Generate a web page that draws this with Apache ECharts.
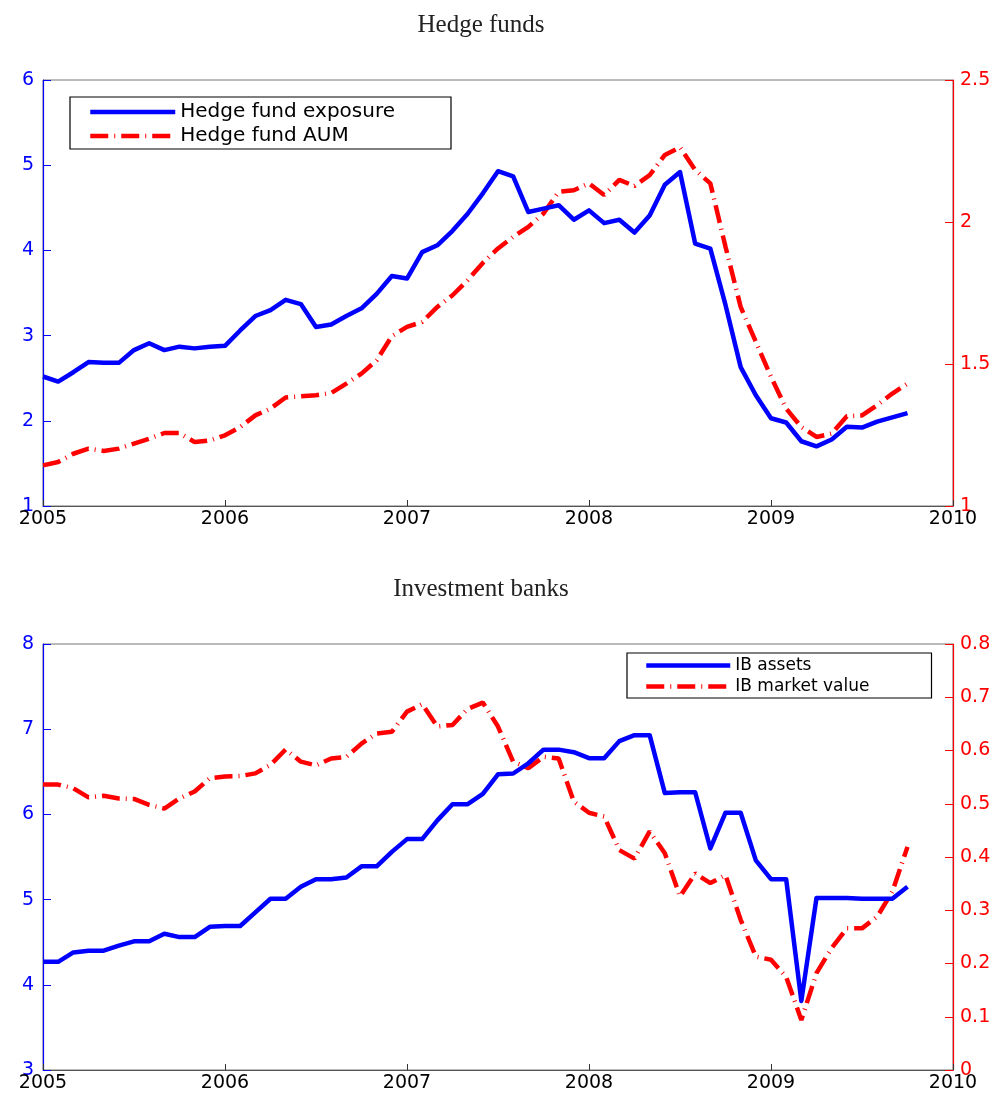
<!DOCTYPE html>
<html>
<head>
<meta charset="utf-8">
<script src="https://cdn.jsdelivr.net/npm/echarts@6/dist/echarts.min.js"></script>
<style>
html,body{margin:0;padding:0;background:#fff;}
#chart{width:1002px;height:1093px;}
</style>
</head>
<body>
<div id="chart"></div>
<script>
// Monthly observations starting January 2005
const startYear = 2005;
const yearTicks = [2005, 2006, 2007, 2008, 2009, 2010];

const hedgeExposure = [
  2.52,2.46,2.57,2.69,2.68,2.68,2.83,2.91,2.83,2.87,2.85,2.87,
  2.88,3.06,3.23,3.30,3.42,3.37,3.10,3.13,3.23,3.32,3.49,3.70,
  3.67,3.98,4.06,4.23,4.43,4.67,4.93,4.87,4.45,4.49,4.53,4.36,
  4.47,4.32,4.36,4.21,4.41,4.77,4.92,4.08,4.02,3.36,2.63,2.30,
  2.03,1.98,1.76,1.70,1.78,1.93,1.92,1.99,2.04,2.09
];
const hedgeAUM = [
  1.143,1.155,1.184,1.202,1.194,1.202,1.220,1.237,1.257,1.257,1.225,1.231,
  1.249,1.278,1.319,1.343,1.382,1.386,1.390,1.398,1.431,1.466,1.513,1.598,
  1.631,1.648,1.701,1.742,1.795,1.856,1.907,1.948,1.983,2.030,2.106,2.112,
  2.136,2.095,2.148,2.127,2.165,2.236,2.263,2.183,2.136,1.913,1.701,1.578,
  1.455,1.343,1.278,1.243,1.255,1.316,1.319,1.355,1.396,1.431
];
const ibAssets = [
  4.27,4.27,4.38,4.40,4.40,4.46,4.51,4.51,4.60,4.56,4.56,4.68,
  4.69,4.69,4.85,5.01,5.01,5.15,5.24,5.24,5.26,5.39,5.39,5.56,
  5.71,5.71,5.93,6.12,6.12,6.24,6.47,6.48,6.60,6.76,6.76,6.73,
  6.66,6.66,6.86,6.93,6.93,6.25,6.26,6.26,5.60,6.02,6.02,5.46,
  5.24,5.24,3.81,5.02,5.02,5.02,5.01,5.01,5.01,5.15
];
const ibMarketValue = [
  0.536,0.536,0.529,0.512,0.515,0.510,0.509,0.498,0.491,0.510,0.523,0.548,
  0.551,0.552,0.557,0.573,0.602,0.579,0.572,0.585,0.588,0.613,0.632,0.635,
  0.673,0.687,0.645,0.648,0.678,0.690,0.645,0.579,0.567,0.588,0.585,0.504,
  0.483,0.476,0.413,0.397,0.448,0.407,0.326,0.369,0.351,0.366,0.282,0.213,
  0.207,0.175,0.094,0.182,0.229,0.266,0.266,0.288,0.335,0.419
];

const titles = ['Hedge funds', 'Investment banks'];
const hedgeNames = ['Hedge fund exposure', 'Hedge fund AUM'];
const ibNames = ['IB assets', 'IB market value'];

function toPairs(arr) {
  return arr.map((v, i) => [startYear + i / 12, v]);
}

const SANS = 'DejaVu Sans';
const BLUE = '#0000ff';
const RED = '#ff0000';

function xAxis(gridIndex) {
  return {
    type: 'value', gridIndex: gridIndex,
    min: yearTicks[0], max: yearTicks[yearTicks.length - 1], interval: 1,
    axisLine: { show: true, lineStyle: { color: '#555', width: 1 } },
    axisTick: { show: true, inside: true, length: 6, lineStyle: { color: '#333' } },
    axisLabel: { color: '#000', fontFamily: SANS, fontSize: 19, margin: 4,
      formatter: v => String(v) },
    splitLine: { show: false }
  };
}
function yAxis(gridIndex, pos, min, max, interval, color, fmt) {
  return {
    type: 'value', gridIndex: gridIndex, position: pos,
    min: min, max: max, interval: interval,
    axisLine: { show: true, lineStyle: { color: color, width: 1.2 } },
    axisTick: { show: true, inside: true, length: 8, lineStyle: { color: color } },
    axisLabel: { color: color, fontFamily: SANS, fontSize: 19,
      margin: pos === 'left' ? 9 : 7, formatter: fmt },
    splitLine: { show: false }
  };
}

const solid = { color: BLUE, width: 4.5, type: 'solid', join: 'round' };
const dashdot = { color: RED, width: 4.5, type: [18, 6, 1, 6], cap: 'butt' };

const option = {
  animation: false,
  backgroundColor: '#fff',
  title: [
    { text: titles[0], left: 476, top: 8, textAlign: 'center',
      textStyle: { fontFamily: 'Liberation Serif', fontSize: 25, fontWeight: 'normal', color: '#222' } },
    { text: titles[1], left: 476, top: 572, textAlign: 'center',
      textStyle: { fontFamily: 'Liberation Serif', fontSize: 25, fontWeight: 'normal', color: '#222' } }
  ],
  legend: [
    { data: hedgeNames, orient: 'vertical', left: 70, top: 97,
      backgroundColor: '#fff', borderColor: '#000', borderWidth: 1.2,
      padding: [5, 56, 3, 18], itemGap: 4, itemWidth: 85, itemHeight: 14, itemTextGap: 10,
      itemStyle: { opacity: 0 }, lineStyle: { width: 4.5 },
      textStyle: { fontFamily: SANS, fontSize: 20, lineHeight: 20, color: '#000' } },
    { data: ibNames, orient: 'vertical', left: 627, top: 653,
      backgroundColor: '#fff', borderColor: '#000', borderWidth: 1.2,
      padding: [4, 62, 3, 17], itemGap: 4, itemWidth: 84, itemHeight: 14, itemTextGap: 11,
      itemStyle: { opacity: 0 }, lineStyle: { width: 4.5 },
      textStyle: { fontFamily: SANS, fontSize: 17, lineHeight: 17, color: '#000' } }
  ],
  grid: [
    { left: 43, top: 80, width: 910, height: 426, show: true, borderColor: '#777', borderWidth: 1, backgroundColor: 'transparent' },
    { left: 43, top: 644, width: 910, height: 426, show: true, borderColor: '#777', borderWidth: 1, backgroundColor: 'transparent' }
  ],
  xAxis: [xAxis(0), xAxis(1)],
  yAxis: [
    yAxis(0, 'left', 1, 6, 1, BLUE, v => String(v)),
    yAxis(0, 'right', 1, 2.5, 0.5, RED, v => String(v)),
    yAxis(1, 'left', 3, 8, 1, BLUE, v => String(v)),
    yAxis(1, 'right', 0, 0.8, 0.1, RED, v => (Math.round(v * 10) / 10).toString())
  ],
  series: [
    { name: hedgeNames[0], type: 'line', xAxisIndex: 0, yAxisIndex: 0, data: toPairs(hedgeExposure),
      showSymbol: false, symbol: 'none', lineStyle: solid, itemStyle: { color: BLUE }, z: 3 },
    { name: hedgeNames[1], type: 'line', xAxisIndex: 0, yAxisIndex: 1, data: toPairs(hedgeAUM),
      showSymbol: false, symbol: 'none', lineStyle: dashdot, itemStyle: { color: RED }, z: 2 },
    { name: ibNames[0], type: 'line', xAxisIndex: 1, yAxisIndex: 2, data: toPairs(ibAssets),
      showSymbol: false, symbol: 'none', lineStyle: solid, itemStyle: { color: BLUE }, z: 3 },
    { name: ibNames[1], type: 'line', xAxisIndex: 1, yAxisIndex: 3, data: toPairs(ibMarketValue),
      showSymbol: false, symbol: 'none', lineStyle: dashdot, itemStyle: { color: RED }, z: 2 }
  ]
};

const chart = echarts.init(document.getElementById('chart'), null, { renderer: 'canvas' });
chart.setOption(option);
</script>
</body>
</html>
